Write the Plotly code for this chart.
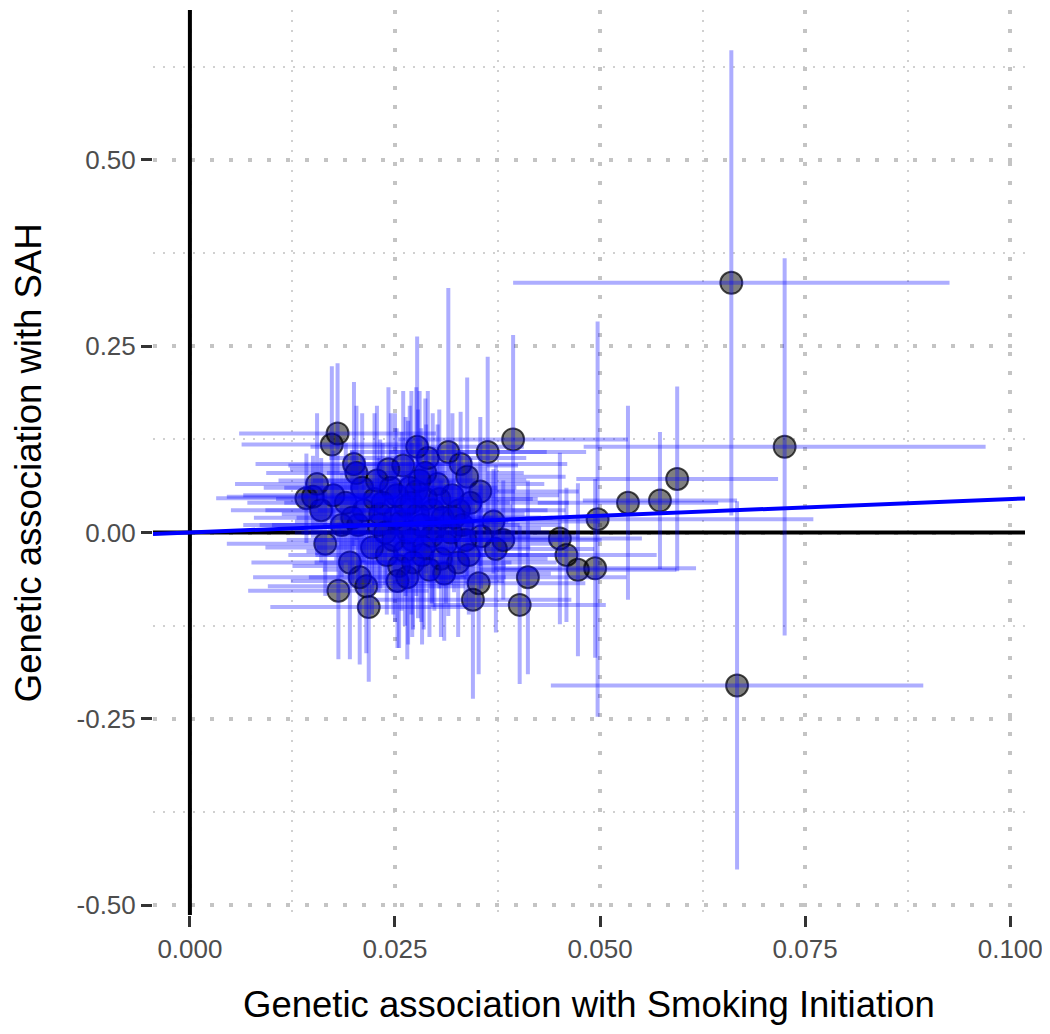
import plotly.graph_objects as go

# ---- data ----
bx = [0.0142, 0.0150, 0.0155, 0.0160, 0.0165, 0.0173, 0.0180, 0.0181, 0.0200, 0.0203,
      0.0190, 0.0195, 0.0207, 0.0215, 0.0218, 0.0225, 0.0230, 0.0240, 0.0245, 0.0250,
      0.0255, 0.0260, 0.0266, 0.0270, 0.0277, 0.0280, 0.0285, 0.0290, 0.0296, 0.0306,
      0.0315, 0.0320, 0.0327, 0.0330, 0.0338, 0.0340, 0.0345, 0.0352, 0.0354, 0.0363,
      0.0370, 0.0373, 0.0382, 0.0394, 0.0402, 0.0412, 0.0451, 0.0459, 0.0473, 0.0494,
      0.0497, 0.0534, 0.0573, 0.0594, 0.0660, 0.0667, 0.0725,
      0.0205, 0.0212, 0.0222, 0.0235, 0.0238, 0.0248, 0.0252, 0.0258, 0.0262, 0.0268,
      0.0272, 0.0278, 0.0282, 0.0288, 0.0295, 0.0302, 0.0308, 0.0312, 0.0318, 0.0328,
      0.0332, 0.0342, 0.0355, 0.0185, 0.0175, 0.0228, 0.0292, 0.0265,
      0.0232, 0.0242, 0.0253, 0.0263, 0.0271, 0.0276, 0.0283, 0.0287, 0.0298, 0.0304,
      0.0310, 0.0322, 0.0336, 0.0198, 0.0210]
by = [0.046, 0.048, 0.065, 0.030, -0.015, 0.118, 0.133, -0.078, 0.092, 0.080,
      0.040, -0.040, -0.060, -0.072, -0.100, 0.045, 0.010, -0.030, 0.060, 0.020,
      -0.045, 0.090, 0.000, 0.040, 0.115, 0.070, -0.020, 0.100, 0.030, -0.035,
      0.108, 0.050, -0.040, 0.092, 0.075, -0.030, -0.090, -0.068, 0.055, 0.108,
      0.015, -0.022, -0.010, 0.125, -0.097, -0.060, -0.008, -0.030, -0.050, -0.048,
      0.018, 0.040, 0.043, 0.072, 0.335, -0.205, 0.115,
      0.010, 0.030, -0.020, 0.040, 0.000, -0.010, 0.050, 0.015, -0.025, 0.060,
      -0.040, 0.025, 0.010, 0.045, -0.005, 0.065, 0.020, -0.015, 0.000, 0.030,
      0.010, 0.040, -0.005, 0.010, 0.050, 0.070, -0.050, -0.060,
      0.025, 0.085, -0.065, 0.035, -0.010, 0.055, -0.030, 0.080, 0.005, 0.045,
      -0.055, 0.020, -0.010, 0.020, 0.060]
se_bx = [0.0110, 0.0105, 0.0100, 0.0110, 0.0120, 0.0110, 0.0120, 0.0110, 0.0120, 0.0110,
         0.0120, 0.0120, 0.0130, 0.0120, 0.0120, 0.0120, 0.0130, 0.0120, 0.0130, 0.0120,
         0.0130, 0.0140, 0.0130, 0.0120, 0.0130, 0.0130, 0.0130, 0.0120, 0.0140, 0.0130,
         0.0120, 0.0130, 0.0120, 0.0130, 0.0120, 0.0120, 0.0120, 0.0130, 0.0120, 0.0120,
         0.0130, 0.0120, 0.0120, 0.0140, 0.0105, 0.0120, 0.0100, 0.0110, 0.0120, 0.0123,
         0.0263, 0.0110, 0.0094, 0.0123, 0.0266, 0.0227, 0.0245,
         0.0120, 0.0120, 0.0130, 0.0120, 0.0110, 0.0130, 0.0120, 0.0130, 0.0120, 0.0130,
         0.0120, 0.0130, 0.0120, 0.0130, 0.0120, 0.0130, 0.0120, 0.0130, 0.0120, 0.0130,
         0.0120, 0.0120, 0.0120, 0.0120, 0.0110, 0.0120, 0.0130, 0.0120,
         0.0120, 0.0120, 0.0130, 0.0130, 0.0120, 0.0120, 0.0130, 0.0120, 0.0130, 0.0120,
         0.0130, 0.0120, 0.0120, 0.0120, 0.0120]
se_by = [0.060, 0.055, 0.095, 0.070, 0.070, 0.105, 0.094, 0.092, 0.110, 0.090,
         0.080, 0.130, 0.117, 0.090, 0.100, 0.115, 0.090, 0.080, 0.100, 0.140,
         0.110, 0.100, 0.150, 0.150, 0.148, 0.120, 0.110, 0.090, 0.130, 0.105,
         0.220, 0.110, 0.100, 0.070, 0.133, 0.080, 0.133, 0.122, 0.100, 0.128,
         0.070, 0.112, 0.080, 0.140, 0.106, 0.130, 0.115, 0.090, 0.116, 0.120,
         0.265, 0.130, 0.092, 0.124, 0.312, 0.247, 0.253,
         0.080, 0.070, 0.090, 0.080, 0.070, 0.100, 0.090, 0.120, 0.100, 0.110,
         0.090, 0.140, 0.130, 0.100, 0.090, 0.080, 0.090, 0.080, 0.070, 0.080,
         0.070, 0.060, 0.070, 0.070, 0.060, 0.100, 0.090, 0.110,
         0.100, 0.110, 0.090, 0.120, 0.130, 0.140, 0.120, 0.100, 0.110, 0.120,
         0.090, 0.100, 0.090, 0.090, 0.100]

ivw_slope = 0.45

x_range = [-0.0045, 0.1018]
y_range = [-0.513, 0.701]
x_tickvals = [0.0, 0.025, 0.05, 0.075, 0.1]
x_ticktext = ["0.000", "0.025", "0.050", "0.075", "0.100"]
x_minor = [0.0125, 0.0375, 0.0625, 0.0875]
y_tickvals = [-0.5, -0.25, 0.0, 0.25, 0.5]
y_ticktext = ["-0.50", "-0.25", "0.00", "0.25", "0.50"]
y_minor = [-0.375, -0.125, 0.125, 0.375, 0.625]

x_title = "Genetic association with Smoking Initiation"
y_title = "Genetic association with SAH"

FONT = "Liberation Sans, Arial, sans-serif"

fig = go.Figure()

# reference lines at zero (drawn first, beneath the data)
fig.add_trace(go.Scatter(x=[0, 0], y=y_range, mode="lines",
                         line=dict(color="black", width=4), showlegend=False, hoverinfo="skip"))
fig.add_trace(go.Scatter(x=x_range, y=[0, 0], mode="lines",
                         line=dict(color="black", width=4), showlegend=False, hoverinfo="skip"))

# points
fig.add_trace(go.Scatter(
    x=bx, y=by, mode="markers",
    marker=dict(size=22, color="rgba(0,0,0,0.5)", line=dict(color="rgba(0,0,0,0.7)", width=2)),
    showlegend=False, hoverinfo="skip",
))

# error bars on top of the points
fig.add_trace(go.Scatter(
    x=bx, y=by, mode="markers",
    error_x=dict(type="data", array=se_bx, color="rgba(0,0,255,0.32)", thickness=4, width=0),
    error_y=dict(type="data", array=se_by, color="rgba(0,0,255,0.32)", thickness=4, width=0),
    marker=dict(size=1, color="rgba(0,0,0,0)"),
    showlegend=False, hoverinfo="skip",
))

# IVW line
fig.add_trace(go.Scatter(
    x=x_range, y=[ivw_slope * v for v in x_range], mode="lines",
    line=dict(color="#0000ff", width=4), showlegend=False, hoverinfo="skip",
))

grid_major = dict(gridcolor="#c4c4c4", gridwidth=4, griddash="4px,15px")
minor_style = dict(showgrid=True, gridcolor="#d0d0d0", gridwidth=2, griddash="2px,8px", ticks="")

fig.update_xaxes(
    range=x_range, tickvals=x_tickvals, ticktext=x_ticktext,
    showgrid=True, **grid_major, zeroline=False, showline=False,
    ticks="outside", ticklen=11, tickwidth=3, tickcolor="#333333",
    tickfont=dict(family=FONT, size=26, color="#4d4d4d"),
    minor=dict(tickvals=x_minor, **minor_style),
)
fig.update_yaxes(
    range=y_range, tickvals=y_tickvals, ticktext=y_ticktext,
    showgrid=True, **grid_major, zeroline=False, showline=False,
    ticks="outside", ticklen=11, tickwidth=3, tickcolor="#333333",
    tickfont=dict(family=FONT, size=26, color="#4d4d4d"),
    minor=dict(tickvals=y_minor, **minor_style),
)

fig.add_annotation(text=x_title, xref="paper", yref="paper", x=0.5, y=-0.0994,
                   xanchor="center", yanchor="middle", showarrow=False, borderpad=0,
                   font=dict(family=FONT, size=36.5, color="black"))
fig.add_annotation(text=y_title, xref="paper", yref="paper", x=-0.1425, y=0.5,
                   xanchor="center", yanchor="middle", showarrow=False, textangle=-90,
                   borderpad=0, font=dict(family=FONT, size=36.5, color="black"))

fig.update_layout(
    width=1050, height=1034,
    margin=dict(l=145, r=33, t=2, b=127, pad=0),
    paper_bgcolor="white", plot_bgcolor="white",
    font=dict(family=FONT),
)

fig.write_html("out.html")
